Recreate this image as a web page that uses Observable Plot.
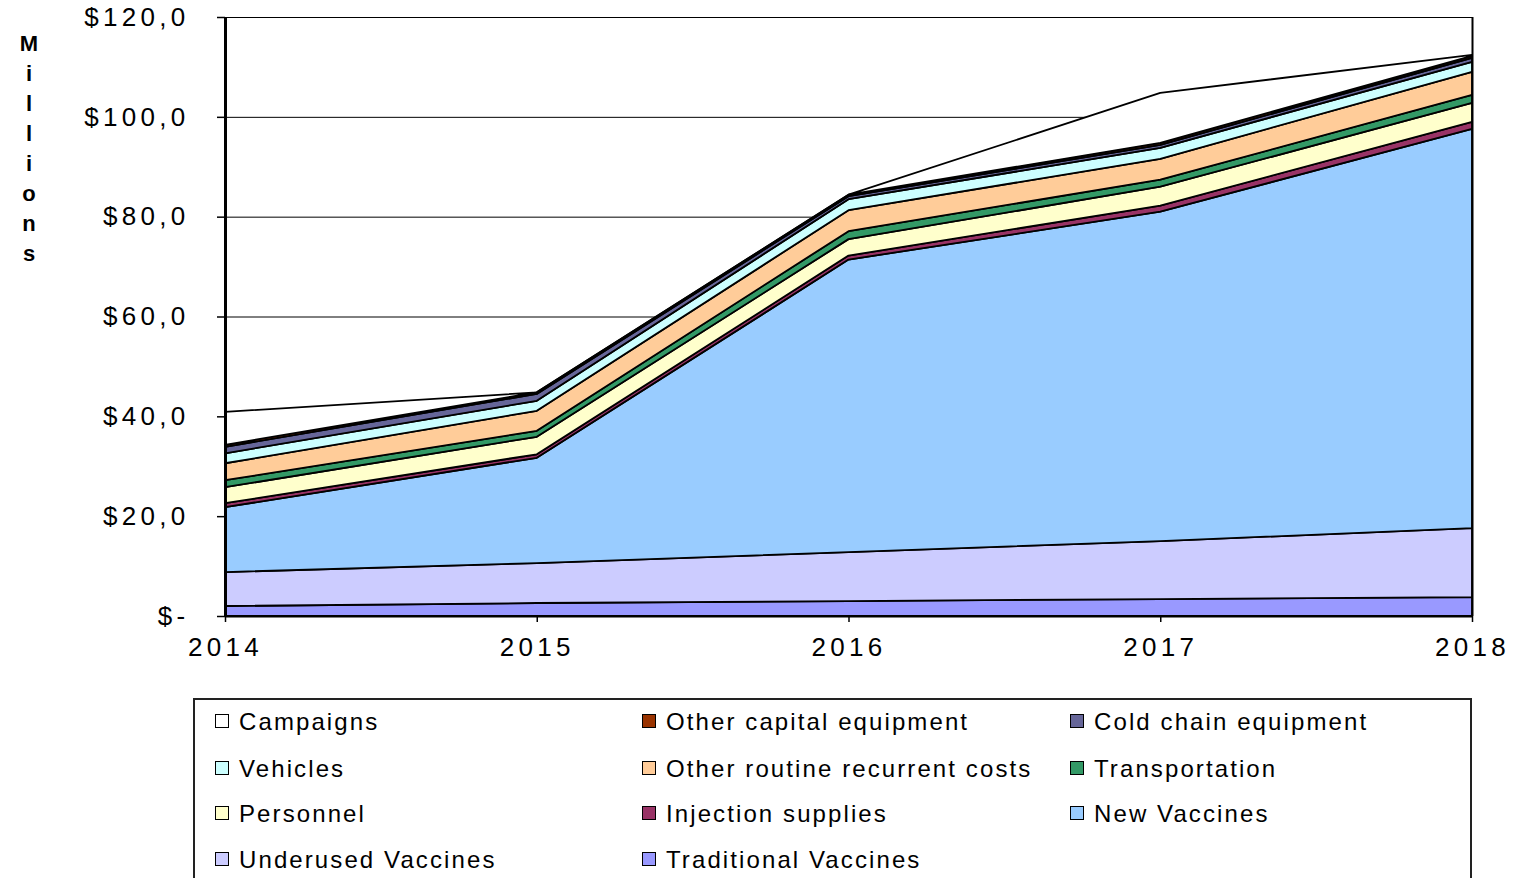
<!DOCTYPE html>
<html>
<head>
<meta charset="utf-8">
<script src="https://cdn.jsdelivr.net/npm/d3@7"></script>
<script src="https://cdn.jsdelivr.net/npm/@observablehq/plot@0.6"></script>
<style>
  html, body { margin: 0; padding: 0; background: #fff; overflow: hidden; }
  body { width: 1518px; height: 878px; position: relative; font-family: "Liberation Sans", Arial, sans-serif; }
  #chart { position: absolute; left: 0; top: 0; }
  #chart g[aria-label$="tick label"] text { letter-spacing: 4.3px; }
  #ylab { position: absolute; left: 16px; top: 29px; width: 26px; text-align: center; font-weight: bold; font-size: 22px; line-height: 30px; }
  #legend { position: absolute; left: 193px; top: 698px; width: 1279px; height: 200px; border: 2px solid #222; box-sizing: border-box; }
  .item { position: absolute; font-size: 24px; letter-spacing: 2.1px; line-height: 26px; white-space: nowrap; }
  .sw { position: absolute; width: 12px; height: 12px; border: 1.5px solid #000; }
</style>
</head>
<body>
<div id="chart"></div>
<div id="ylab"></div>
<div id="legend"></div>
<script>
const years = [2014, 2015, 2016, 2017, 2018];
const seriesNames = [
  "Traditional Vaccines", "Underused Vaccines", "New Vaccines", "Injection supplies",
  "Personnel", "Transportation", "Other routine recurrent costs", "Vehicles",
  "Cold chain equipment", "Other capital equipment", "Campaigns"
];
const seriesColors = [
  "#9999FF", "#CCCCFF", "#99CCFF", "#993366",
  "#FFFFCC", "#339966", "#FFCC99", "#CCFFFF",
  "#666699", "#993300", "#FFFFFF"
];
const traditional    = [2.0, 2.6, 3.0, 3.4, 3.8];
const underused      = [6.8, 8.0, 9.8, 11.6, 13.8];
const newVaccines    = [13.0, 21.1, 58.6, 66.0, 80.0];
const injection      = [0.8, 0.7, 0.8, 1.2, 1.4];
const personnel      = [3.2, 3.5, 3.3, 3.8, 3.8];
const transportation = [1.4, 1.2, 1.6, 1.4, 1.6];
const otherRoutine   = [3.4, 4.0, 4.2, 4.2, 4.6];
const vehicles       = [2.0, 2.0, 2.2, 2.2, 2.0];
const coldChain      = [1.3, 1.4, 0.6, 0.6, 0.8];
const otherCapital   = [0.4, 0.3, 0.3, 0.4, 0.4];
const campaigns      = [6.6, 0.0, 0.0, 10.0, 0.2];
const yTicks = [0, 20, 40, 60, 80, 100, 120];
const legendOrder = [
  "Campaigns", "Other capital equipment", "Cold chain equipment",
  "Vehicles", "Other routine recurrent costs", "Transportation",
  "Personnel", "Injection supplies", "New Vaccines",
  "Underused Vaccines", "Traditional Vaccines"
];

const seriesValues = [traditional, underused, newVaccines, injection, personnel,
  transportation, otherRoutine, vehicles, coldChain, otherCapital, campaigns];
const data = [];
seriesNames.forEach((name, i) => {
  years.forEach((yr, j) => data.push({year: yr, series: name, value: seriesValues[i][j]}));
});

const fmtY = v => v === 0 ? "$-" : "$" + v.toFixed(1).replace(".", ",");

const chart = Plot.plot({
  width: 1518,
  height: 680,
  marginLeft: 225,
  marginRight: 46,
  marginTop: 17,
  marginBottom: 64,
  style: {fontFamily: "'Liberation Sans', Arial, sans-serif", background: "white", color: "black", overflow: "visible"},
  x: {domain: [2014, 2018], ticks: years, tickFormat: d => String(d)},
  y: {domain: [0, 120], ticks: yTicks},
  color: {domain: seriesNames, range: seriesColors},
  marks: [
    Plot.gridY(yTicks, {stroke: "black", strokeOpacity: 1, strokeWidth: 1}),
    Plot.areaY(data, {x: "year", y: "value", z: "series", fill: "series", order: seriesNames,
      stroke: "black", strokeWidth: 1.8, strokeLinejoin: "round", fillOpacity: 1}),
    Plot.ruleY([0], {stroke: "black", strokeWidth: 2}),
    Plot.ruleX([2014], {stroke: "black", strokeWidth: 3}),
    Plot.ruleX([2018], {stroke: "black", strokeWidth: 2}),
    Plot.axisY({ticks: yTicks, tickFormat: fmtY, tickSize: 8, tickPadding: 28, fontSize: 26, label: null, stroke: "black", strokeWidth: 1.5}),
    Plot.axisX({ticks: years, tickFormat: d => String(d), tickSize: 6, tickPadding: 15, fontSize: 26, label: null, stroke: "black", strokeWidth: 1.5})
  ]
});
document.getElementById("chart").appendChild(chart);

// vertical "Millions" label
document.getElementById("ylab").innerHTML = "Millions".split("").join("<br>");

// legend
const legend = document.getElementById("legend");
const colX = [20, 447, 875];
const rowY = [9, 56, 101, 147];
legendOrder.forEach((name, k) => {
  const col = k % 3, row = Math.floor(k / 3);
  const color = seriesColors[seriesNames.indexOf(name)];
  const sw = document.createElement("div");
  sw.className = "sw";
  sw.style.left = colX[col] + "px";
  sw.style.top = (rowY[row] + 5) + "px";
  sw.style.background = color;
  legend.appendChild(sw);
  const it = document.createElement("div");
  it.className = "item";
  it.style.left = (colX[col] + 24) + "px";
  it.style.top = rowY[row] + "px";
  it.textContent = name;
  legend.appendChild(it);
});
</script>
</body>
</html>
